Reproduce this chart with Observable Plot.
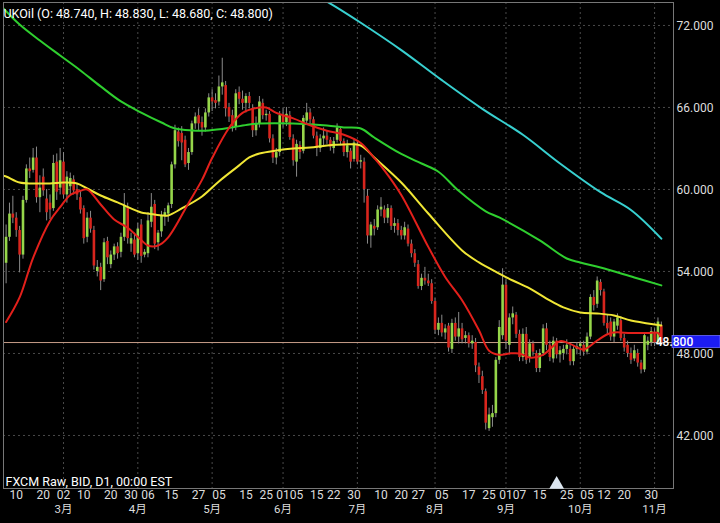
<!DOCTYPE html>
<html><head><meta charset="utf-8">
<script src="https://cdn.jsdelivr.net/npm/d3@7"></script>
<script src="https://cdn.jsdelivr.net/npm/@observablehq/plot@0.6"></script>
<style>
html,body{margin:0;padding:0;background:#000;}
</style></head><body>
<div id="chart"></div>
<script>
// ---- data ----
const firstDay = "2015-02-05";
const stopDay = "2015-11-05";
const headerText = "UKOil (O: 48.740, H: 48.830, L: 48.680, C: 48.800)";
const footerText = "FXCM Raw, BID, D1, 00:00 EST";
const lastPrice = 48.8;

const open = [54.6,56.5,58.2,57.9,57.0,55.2,59.2,61.5,61.4,62.3,59.4,60.9,59.3,59.0,58.6,62.0,60.1,62.0,59.6,60.2,
60.7,60.0,59.4,58.6,56.5,57.9,57.0,54.0,54.3,53.4,56.2,54.5,55.2,55.8,55.4,56.5,58.7,56.0,56.3,55.3,
57.4,55.2,55.3,57.6,58.9,56.1,56.9,58.0,58.2,58.9,61.8,64.2,64.1,63.6,61.9,62.7,64.8,65.4,64.9,64.5,
65.6,66.7,66.5,66.4,67.5,67.6,66.0,65.4,64.6,67.1,66.6,66.3,66.8,65.9,64.3,64.8,66.3,65.4,65.5,63.7,
62.3,62.7,65.4,64.9,65.4,63.7,62.0,63.2,62.8,65.0,65.6,65.1,63.9,63.0,63.7,63.9,63.6,63.0,63.6,64.4,
63.5,62.7,62.8,62.2,63.3,62.0,62.0,59.5,56.6,57.3,57.2,58.5,58.5,57.9,58.6,57.3,57.5,57.0,56.6,57.1,
56.0,55.3,54.5,52.9,53.5,53.3,53.1,51.8,49.7,50.2,49.5,50.0,48.3,50.2,49.2,49.8,49.1,49.3,48.7,48.8,
47.0,46.3,45.2,42.5,43.3,43.6,47.5,49.3,53.0,48.6,50.6,50.8,49.4,47.7,49.4,47.7,48.7,48.0,46.9,48.0,
49.8,48.6,47.6,48.9,47.9,48.0,48.3,48.3,47.4,48.3,48.5,48.6,48.1,49.2,52.1,51.6,53.2,52.5,50.2,50.3,
49.2,50.0,50.4,49.1,48.6,48.0,47.6,48.0,47.3,46.8,48.6,48.8,49.5,48.8,50.0];
const high = [57.4,59.0,59.5,58.3,57.3,59.5,61.8,62.3,63.0,63.1,61.0,61.5,60.0,59.6,62.5,62.6,63.0,62.7,61.3,61.2,
61.0,60.4,59.9,58.8,58.3,58.4,57.3,54.8,54.6,56.4,56.5,55.5,56.0,56.1,56.8,59.7,59.0,56.8,56.8,57.5,
57.8,55.6,58.3,59.7,59.2,57.0,58.4,58.6,59.0,62.0,64.7,64.5,64.6,63.9,63.0,65.0,65.6,65.9,65.3,65.9,
67.0,67.3,67.0,68.3,69.6,67.9,66.3,65.8,67.3,67.5,67.2,67.0,67.1,66.2,65.3,66.8,66.6,65.8,65.7,64.0,
63.0,65.7,65.9,66.0,65.7,64.0,63.6,63.5,65.4,66.3,65.9,65.3,64.2,64.0,64.5,64.3,63.8,63.8,64.8,64.6,
63.7,63.6,63.0,63.7,63.5,62.5,62.3,60.0,57.6,57.8,58.8,59.4,58.8,58.9,58.8,57.9,57.8,57.3,57.6,57.4,
56.3,55.6,54.8,53.8,54.3,53.8,53.4,52.0,50.6,50.8,50.1,50.2,50.5,50.6,51.0,50.2,49.6,49.5,49.3,49.1,
47.3,46.7,45.4,44.0,44.2,47.7,50.4,54.2,53.4,50.9,51.4,51.0,49.7,49.8,49.9,49.0,48.9,48.2,48.3,50.1,
50.2,48.9,49.2,49.1,48.5,48.6,49.0,48.6,48.5,48.8,48.9,48.9,49.5,52.3,52.6,53.6,53.4,52.7,50.8,50.6,
50.5,50.9,50.7,49.4,48.9,48.4,48.6,48.3,47.5,49.5,49.2,49.9,49.8,50.6,50.3];
const low = [53.1,56.2,57.5,56.5,53.9,54.9,59.0,60.8,61.2,59.0,58.3,59.5,57.7,57.8,58.4,59.2,59.6,59.3,59.0,59.6,
59.6,59.2,58.2,56.0,56.1,56.8,54.1,53.6,52.6,53.2,54.5,54.2,54.8,54.9,55.0,56.2,56.0,55.4,55.0,54.8,
54.6,55.0,55.0,57.2,55.6,55.5,56.5,57.3,57.6,58.6,61.5,63.1,62.1,61.6,61.4,62.5,64.4,64.3,63.9,64.2,
65.3,65.7,65.9,66.1,66.9,65.3,64.9,64.2,64.3,66.2,65.8,65.6,65.9,63.8,63.9,64.5,65.1,65.0,63.4,61.9,
61.8,62.4,64.5,64.6,63.6,61.7,60.9,62.2,62.6,64.8,64.8,63.7,62.4,62.7,63.2,63.3,62.8,62.6,63.4,63.2,
62.4,62.3,61.5,62.0,61.8,61.5,59.0,56.0,55.7,56.6,57.0,58.0,57.5,57.5,57.0,56.8,56.6,56.3,56.3,55.8,
55.0,54.3,52.7,52.6,53.0,52.9,51.6,49.4,49.3,49.2,49.0,48.1,48.0,48.9,48.7,48.7,48.7,48.4,48.3,46.6,
45.8,45.0,42.4,42.3,42.6,43.3,47.2,49.0,48.3,47.9,50.1,49.1,47.4,47.4,47.2,47.3,47.8,46.6,46.6,47.8,
48.2,47.4,47.3,47.6,47.3,47.5,47.9,47.1,47.1,47.9,47.8,47.8,47.9,49.0,51.1,51.3,52.2,50.0,49.4,48.9,
48.8,49.7,48.9,48.1,47.7,47.2,47.4,47.0,46.5,46.6,48.2,48.5,48.5,48.6,48.6];
const close = [56.5,58.2,57.9,57.0,55.2,59.2,61.5,61.3,62.3,59.4,60.1,59.9,58.3,58.5,61.9,59.8,62.1,59.6,60.9,60.8,
59.9,59.6,58.5,56.4,57.9,57.1,54.4,54.3,53.3,56.1,55.0,55.2,55.8,55.3,56.5,58.8,56.4,56.4,55.2,57.1,
55.1,55.4,57.7,58.7,56.0,56.8,58.1,58.3,58.8,61.8,64.3,63.5,63.4,61.8,62.7,64.8,65.3,64.8,64.5,65.6,
66.7,66.4,66.3,67.5,67.8,65.9,65.3,64.6,67.0,66.6,66.3,66.8,66.3,64.3,64.8,66.4,65.4,65.5,63.7,62.3,
62.7,65.4,64.9,65.5,63.8,62.1,63.3,62.7,65.2,65.6,65.1,63.9,63.0,63.7,63.9,63.6,63.1,63.5,64.5,63.5,
62.7,63.2,62.0,63.4,62.0,62.1,60.0,56.6,57.4,57.1,58.5,58.7,57.9,58.6,57.3,57.5,57.0,56.6,57.2,56.0,
55.3,54.6,52.9,53.5,53.3,53.1,51.8,49.7,50.2,49.5,49.8,48.4,50.2,49.2,49.8,49.0,49.3,48.7,48.9,47.1,
46.4,45.3,42.9,43.5,43.6,47.5,49.9,53.0,48.9,50.6,50.9,49.4,47.7,49.4,47.5,48.7,48.1,46.9,48.0,49.8,
48.6,47.7,48.9,47.9,48.2,48.3,48.6,47.4,48.3,48.5,48.7,48.1,49.2,52.1,51.5,53.3,52.6,50.2,49.8,49.2,
50.3,50.6,49.1,48.4,48.0,47.5,48.2,47.3,46.8,49.3,48.9,49.6,48.8,50.3,48.8];

// moving averages: trading-day number and value
const maRedDay = [0,4,8,13,16,19,22,24,28,32,36,40,42,45,48,54,58,61,66,70,75,77,80,85,90,95,100,105,109,112,117,125,130,135,140,143,146,149,152,155,159,164,167,171,175,179,185,190,193,194];
const maRedVal = [50.3,52.1,55.0,57.7,58.7,59.6,59.9,60.0,58.9,57.8,57.2,56.3,55.9,55.9,56.5,59.0,60.7,62.3,64.5,65.6,66.0,66.0,65.6,65.2,64.7,64.3,64.0,63.4,62.3,61.4,59.6,55.8,53.6,51.9,49.7,48.2,47.9,48.0,48.0,47.7,47.9,48.9,48.7,48.3,48.95,49.5,49.5,49.5,49.5,49.1];
const maYellowDay = [-1,0,4,8,13,17,21,24,28,33,35,40,42,46,48,52,58,63,69,72,75,80,85,90,95,100,105,109,117,125,135,140,146,150,155,160,165,170,175,180,185,190,194];
const maYellowVal = [61.0,60.95,60.51,60.44,60.44,60.51,60.44,60.07,59.56,59.05,58.83,58.32,58.24,58.10,58.10,58.61,59.49,60.59,61.76,62.34,62.63,62.85,63.0,63.07,63.22,63.29,63.22,62.34,60.51,58.24,55.54,54.66,53.85,53.34,52.76,52.02,51.37,51.0,50.93,50.78,50.41,50.2,50.05];
const maGreenDay = [-1,4,10,16,22,28,34,40,46,50,55,60,66,72,75,85,95,100,105,109,117,123,128,134,142,146,158,166,170,176,186,194];
const maGreenVal = [73.3,72.07,70.9,69.8,68.71,67.54,66.44,65.63,64.9,64.46,64.32,64.32,64.5,64.76,64.83,64.83,64.68,64.54,64.46,63.8,62.6,61.9,61.3,59.9,58.4,57.95,56.27,54.95,54.66,54.29,53.56,52.98];
const maCyanDay = [93,96,105,117,129,141,153,164,176,185,194];
const maCyanVal = [74.0,73.6,72.2,70.2,68.0,65.9,64.0,61.9,59.8,58.5,56.4];

const yTicks = [42,48,54,60,66,72];
const dayTickDates = ["2015-02-10","2015-02-20","2015-03-02","2015-03-10","2015-03-20","2015-03-30","2015-04-06","2015-04-15","2015-04-27","2015-05-05","2015-05-15","2015-05-25","2015-06-01","2015-06-05","2015-06-15","2015-06-22","2015-06-30","2015-07-10","2015-07-20","2015-07-27","2015-08-05","2015-08-17","2015-08-25","2015-09-01","2015-09-07","2015-09-15","2015-09-25","2015-10-05","2015-10-12","2015-10-20","2015-10-30"];
const dayTickLabels = ["10","20","02","10","20","30","06","15","27","05","15","25","01","05","15","22","30","10","20","27","05","17","25","01","07","15","25","05","12","20","30"];
const monthTickDates = ["2015-03-02","2015-04-01","2015-05-01","2015-06-01","2015-07-01","2015-08-03","2015-09-01","2015-10-01","2015-11-02"];
const monthTickLabels = ["3月","4月","5月","6月","7月","8月","9月","10月","11月"];
const markerDate = "2015-09-22";

// ---- build ----
const parse = d3.utcParse("%Y-%m-%d"), fmt = d3.utcFormat("%Y-%m-%d");
const dates = d3.utcDays(parse(firstDay), parse(stopDay))
  .filter(d => d.getUTCDay() !== 0 && d.getUTCDay() !== 6).map(fmt);
const dayIndex = new Map(dates.map((d, i) => [d, i]));
const candles = dates.map((d, i) => ({i, date: d, o: open[i], h: high[i], l: low[i], c: close[i]}));
const up = candles.filter(d => d.c >= d.o);
const down = candles.filter(d => d.c < d.o);
const toLine = (days, vals) => days.map((i, k) => ({i, v: vals[k]}));

const dayTickIdx = dayTickDates.map(d => dayIndex.get(d));
const dayLabelMap = new Map(dayTickIdx.map((x, k) => [x, dayTickLabels[k]]));
const monthTickIdx = monthTickDates.map(d => dayIndex.get(d));
const monthLabelMap = new Map(monthTickIdx.map((x, k) => [x, monthTickLabels[k]]));

const yMin = 38.12, yMax = 73.68;
const gridStyle = {stroke: "#4a4a4a", strokeOpacity: 1, strokeDasharray: "2,3"};

const chart = Plot.plot({
  width: 720, height: 523,
  marginLeft: 3, marginRight: 47, marginTop: 2, marginBottom: 35,
  style: {background: "#000", color: "#ddd", fontFamily: "Roboto, 'Noto Sans CJK SC', sans-serif", fontSize: "12px"},
  x: {type: "linear", domain: [-0.77, 197.6], label: null},
  y: {domain: [yMin, yMax], label: null},
  marks: [
    Plot.gridY(yTicks, gridStyle),
    Plot.gridX(monthTickIdx, gridStyle),
    Plot.ruleY([lastPrice], {stroke: "#c79c88", strokeWidth: 1}),
    Plot.ruleX(candles, {x: "i", y1: "l", y2: "h", stroke: "#8a8a8a", strokeWidth: 1}),
    Plot.ruleX(up, {x: "i", y1: "o", y2: "c", stroke: "#96d64a", strokeWidth: 2.6}),
    Plot.ruleX(down, {x: "i", y1: "o", y2: "c", stroke: "#d8251d", strokeWidth: 2.6}),
    Plot.line(toLine(maCyanDay, maCyanVal), {x: "i", y: "v", stroke: "#38d0d0", strokeWidth: 2, curve: "catmull-rom", clip: true}),
    Plot.line(toLine(maGreenDay, maGreenVal), {x: "i", y: "v", stroke: "#2fcf2f", strokeWidth: 2, curve: "catmull-rom", clip: true}),
    Plot.line(toLine(maYellowDay, maYellowVal), {x: "i", y: "v", stroke: "#f0e635", strokeWidth: 2, curve: "catmull-rom", clip: true}),
    Plot.line(toLine(maRedDay, maRedVal), {x: "i", y: "v", stroke: "#e3201b", strokeWidth: 2, curve: "catmull-rom", clip: true}),
    Plot.frame({stroke: "#777"}),
    Plot.dot([markerDate], {x: d => dayIndex.get(d), y: () => yMin, symbol: "triangle", r: 5.5, fill: "#dce6f0", dy: -4}),
    Plot.text([headerText], {frameAnchor: "top-left", textAnchor: "start", lineAnchor: "top", dx: 0, dy: 7, fill: "#fff", fontSize: 12.5}),
    Plot.text([footerText], {frameAnchor: "bottom-left", textAnchor: "start", lineAnchor: "bottom", dx: 2, dy: -3, fill: "#fff", fontSize: 12.5}),
    Plot.axisY(yTicks, {anchor: "right", tickSize: 0, tickPadding: 3, dy: 1, tickFormat: d3.format(".3f"), label: null, color: "#ddd", fontSize: 12}),
    Plot.axisX(dayTickIdx, {anchor: "bottom", tickSize: 0, tickPadding: 2, tickFormat: d => dayLabelMap.get(d), label: null, color: "#ddd", fontSize: 12}),
    Plot.axisX(monthTickIdx, {anchor: "bottom", tickSize: 0, tickPadding: 16, tickFormat: d => monthLabelMap.get(d), label: null, color: "#ddd", fontSize: 11.5})
  ]
});
document.getElementById("chart").appendChild(chart);

// price tag on the right axis, positioned through the plot's scales
const ys = chart.scale("y").apply(lastPrice);
const xr = chart.scale("x").range[1];
const tag = d3.select(chart).append("g");
tag.append("rect").attr("x", xr - 1).attr("y", ys - 6.5).attr("width", 720 - xr + 1).attr("height", 12)
  .attr("fill", "#1c1cf2").attr("stroke", "#6a6aff").attr("stroke-width", 0.8);
tag.append("text").attr("x", xr + 1.5).attr("y", ys + 4).attr("fill", "#fff")
  .attr("font-size", 12).attr("font-weight", 500).attr("font-family", "Roboto, sans-serif").text(d3.format(".3f")(lastPrice));
</script>
</body></html>
